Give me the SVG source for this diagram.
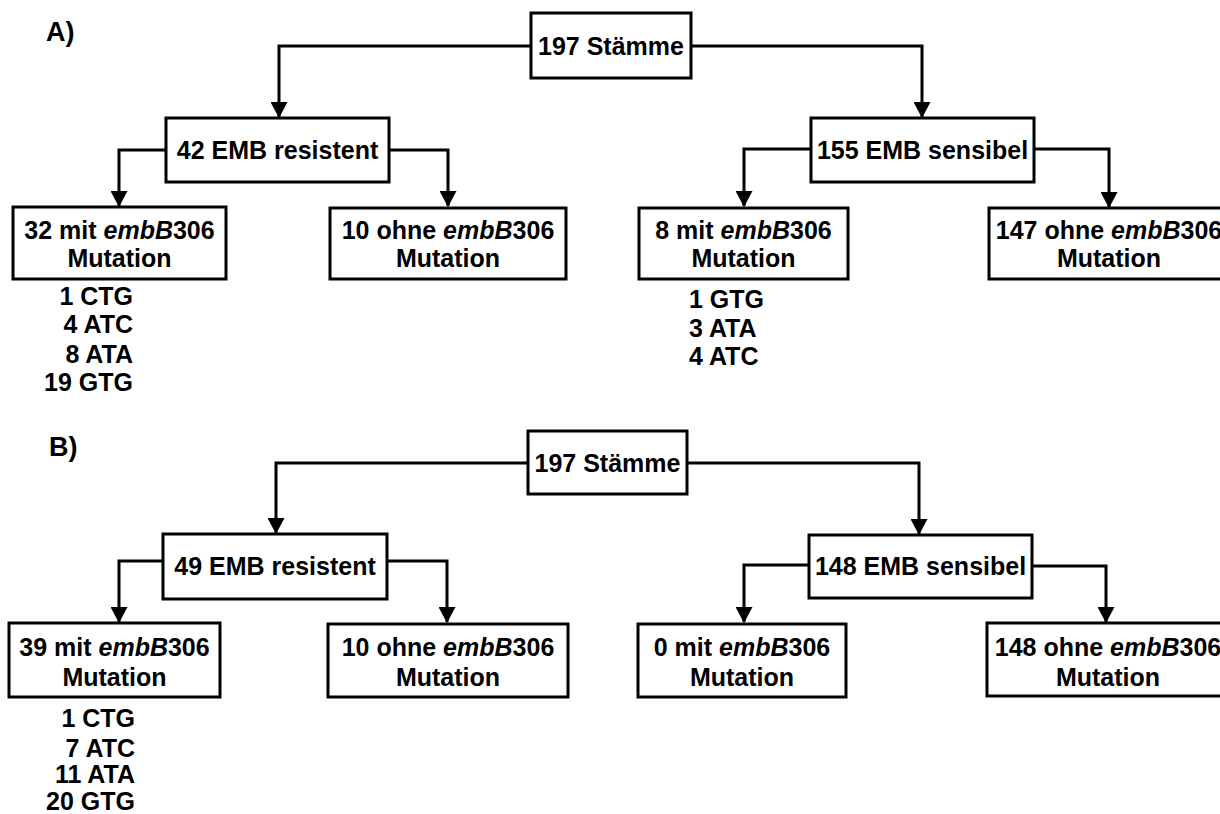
<svg xmlns="http://www.w3.org/2000/svg" width="1220" height="814" viewBox="0 0 1220 814">
<style>
.box{fill:#fff;stroke:#000;stroke-width:3}
.t{font-family:"Liberation Sans",Arial,sans-serif;font-weight:bold;font-size:25px;fill:#000}
.c{text-anchor:middle}
.r{text-anchor:end}
.lbl{font-size:27px}
.i{font-style:italic}
.con path{fill:none;stroke:#000;stroke-width:3;marker-end:url(#ah)}
</style>
<defs>
<marker id="ah" markerUnits="userSpaceOnUse" markerWidth="17" markerHeight="17" viewBox="0 0 16 17" refX="15" refY="8.5" orient="auto">
<path d="M0,0 L16,8.5 L0,17 Z" fill="#000"/>
</marker>
</defs>
<rect width="1220" height="814" fill="#fff"/>

<g id="connectors" class="con">
<!-- Panel A -->
<path d="M531,46 H279 V117"/>
<path d="M691,46 H922 V117"/>
<path d="M166,150 H119 V206"/>
<path d="M389,150 H448 V206"/>
<path d="M811,149 H744 V206"/>
<path d="M1034,149 H1109 V207"/>
<!-- Panel B -->
<path d="M528,463 H276 V533"/>
<path d="M687,463 H919 V534"/>
<path d="M163,561 H119 V622"/>
<path d="M387,561 H447 V622"/>
<path d="M809,565 H744 V622"/>
<path d="M1032,566 H1106 V622"/>
</g>

<g id="labelA"><text class="t lbl" x="46" y="41">A)</text></g>
<g id="labelB"><text class="t lbl" x="49" y="456">B)</text></g>

<!-- Panel A nodes -->
<g id="A_root"><rect class="box" x="531" y="13" width="160" height="65"/><text class="t c" x="611" y="55">197 Stämme</text></g>
<g id="A_res"><rect class="box" x="166" y="118" width="223" height="64"/><text class="t c" x="277.5" y="159">42 EMB resistent</text></g>
<g id="A_sens"><rect class="box" x="811" y="118" width="223" height="64"/><text class="t c" x="922.5" y="159">155 EMB sensibel</text></g>
<g id="A_res_mit"><rect class="box" x="13" y="207" width="213" height="72"/><text class="t c" x="119.5" y="239">32 mit <tspan class="i">embB</tspan>306</text><text class="t c" x="119.5" y="267">Mutation</text></g>
<g id="A_res_ohne"><rect class="box" x="330" y="208" width="236" height="71"/><text class="t c" x="448" y="239">10 ohne <tspan class="i">embB</tspan>306</text><text class="t c" x="448" y="267">Mutation</text></g>
<g id="A_sens_mit"><rect class="box" x="639" y="208" width="209" height="71"/><text class="t c" x="743.5" y="239">8 mit <tspan class="i">embB</tspan>306</text><text class="t c" x="743.5" y="267">Mutation</text></g>
<g id="A_sens_ohne"><rect class="box" x="989" y="208" width="240" height="71"/><text class="t c" x="1109" y="239">147 ohne <tspan class="i">embB</tspan>306</text><text class="t c" x="1109" y="267">Mutation</text></g>
<g id="A_list1">
<text class="t r" x="133" y="305">1 CTG</text>
<text class="t r" x="133" y="333">4 ATC</text>
<text class="t r" x="133" y="363">8 ATA</text>
<text class="t r" x="133" y="391">19 GTG</text>
</g>
<g id="A_list2">
<text class="t" x="689" y="308">1 GTG</text>
<text class="t" x="689" y="337">3 ATA</text>
<text class="t" x="689" y="365">4 ATC</text>
</g>

<!-- Panel B nodes -->
<g id="B_root"><rect class="box" x="528" y="431" width="159" height="63"/><text class="t c" x="607.5" y="472">197 Stämme</text></g>
<g id="B_res"><rect class="box" x="163" y="534" width="224" height="65"/><text class="t c" x="275" y="575">49 EMB resistent</text></g>
<g id="B_sens"><rect class="box" x="809" y="535" width="223" height="63"/><text class="t c" x="920.5" y="575">148 EMB sensibel</text></g>
<g id="B_res_mit"><rect class="box" x="9" y="623" width="211" height="74"/><text class="t c" x="114.5" y="656">39 mit <tspan class="i">embB</tspan>306</text><text class="t c" x="114.5" y="686">Mutation</text></g>
<g id="B_res_ohne"><rect class="box" x="328" y="624" width="240" height="73"/><text class="t c" x="448" y="656">10 ohne <tspan class="i">embB</tspan>306</text><text class="t c" x="448" y="686">Mutation</text></g>
<g id="B_sens_mit"><rect class="box" x="638" y="624" width="208" height="73"/><text class="t c" x="742" y="656">0 mit <tspan class="i">embB</tspan>306</text><text class="t c" x="742" y="686">Mutation</text></g>
<g id="B_sens_ohne"><rect class="box" x="987" y="623" width="242" height="73"/><text class="t c" x="1108" y="656">148 ohne <tspan class="i">embB</tspan>306</text><text class="t c" x="1108" y="686">Mutation</text></g>
<g id="B_list1">
<text class="t r" x="135" y="727">1 CTG</text>
<text class="t r" x="135" y="757">7 ATC</text>
<text class="t r" x="135" y="783">11 ATA</text>
<text class="t r" x="135" y="810">20 GTG</text>
</g>
</svg>
